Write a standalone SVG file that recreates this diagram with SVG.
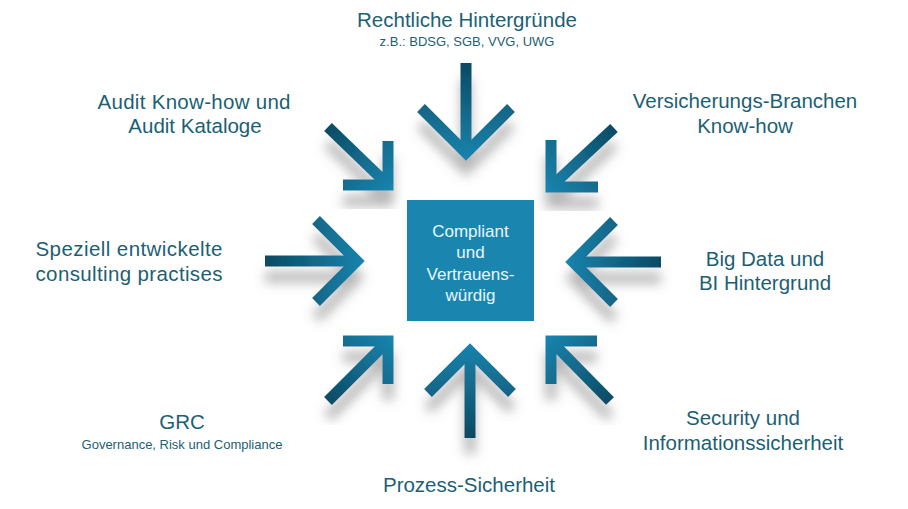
<svg xmlns="http://www.w3.org/2000/svg" width="908" height="509" viewBox="0 0 908 509">
<style>
.lbl{font-family:"Liberation Sans",Arial,sans-serif;font-size:20.5px;fill:#1c5f74;text-anchor:middle}
.sub{font-family:"Liberation Sans",Arial,sans-serif;font-size:13px;fill:#1c5f74;text-anchor:middle}
.box{font-family:"Liberation Sans",Arial,sans-serif;font-size:17px;fill:#e6f6fb;text-anchor:middle}
.arr{fill:none;stroke-width:11;stroke-linecap:butt;stroke-linejoin:miter;filter:url(#sh)}
</style>
<defs>
<filter id="sh" x="-40%" y="-40%" width="180%" height="180%">
<feGaussianBlur in="SourceAlpha" stdDeviation="6"/>
<feOffset dx="0" dy="16" result="b"/>
<feFlood flood-color="#707070" flood-opacity="0.5"/>
<feComposite in2="b" operator="in"/>
<feMerge><feMergeNode/><feMergeNode in="SourceGraphic"/></feMerge>
</filter>
<linearGradient id="gT" gradientUnits="userSpaceOnUse" x1="466" y1="63" x2="466" y2="160"><stop offset="0" stop-color="#0b4a63"/><stop offset="1" stop-color="#1a84ae"/></linearGradient>
<linearGradient id="gB" gradientUnits="userSpaceOnUse" x1="470" y1="438" x2="470" y2="343"><stop offset="0" stop-color="#0b4a63"/><stop offset="1" stop-color="#1a84ae"/></linearGradient>
<linearGradient id="gL" gradientUnits="userSpaceOnUse" x1="265" y1="261" x2="365" y2="261"><stop offset="0" stop-color="#0b4a63"/><stop offset="1" stop-color="#1a84ae"/></linearGradient>
<linearGradient id="gR" gradientUnits="userSpaceOnUse" x1="661" y1="262" x2="565" y2="262"><stop offset="0" stop-color="#0b4a63"/><stop offset="1" stop-color="#1a84ae"/></linearGradient>
<linearGradient id="gTL" gradientUnits="userSpaceOnUse" x1="326" y1="125" x2="392" y2="190"><stop offset="0" stop-color="#0b4a63"/><stop offset="1" stop-color="#1a84ae"/></linearGradient>
<linearGradient id="gTR" gradientUnits="userSpaceOnUse" x1="616" y1="126" x2="547" y2="191"><stop offset="0" stop-color="#0b4a63"/><stop offset="1" stop-color="#1a84ae"/></linearGradient>
<linearGradient id="gBL" gradientUnits="userSpaceOnUse" x1="326" y1="403" x2="392" y2="337"><stop offset="0" stop-color="#0b4a63"/><stop offset="1" stop-color="#1a84ae"/></linearGradient>
<linearGradient id="gBR" gradientUnits="userSpaceOnUse" x1="612" y1="403" x2="547" y2="337"><stop offset="0" stop-color="#0b4a63"/><stop offset="1" stop-color="#1a84ae"/></linearGradient>
</defs>
<rect width="908" height="509" fill="#ffffff"/>
<g id="connectors">
<g id="arrow-top" class="arr" stroke="url(#gT)"><path d="M466,63 L466,150"/><path d="M421,108 L466,153 L511,108"/></g>
<g id="arrow-bottom" class="arr" stroke="url(#gB)"><path d="M470,438 L470,354"/><path d="M428,393 L470,351 L512,393"/></g>
<g id="arrow-left" class="arr" stroke="url(#gL)"><path d="M265,261 L352,261"/><path d="M316,220 L357,261 L316,302"/></g>
<g id="arrow-right" class="arr" stroke="url(#gR)"><path d="M661,262 L578,262"/><path d="M614,221 L573,262 L614,303"/></g>
<g id="arrow-tl" class="arr" stroke="url(#gTL)"><path d="M328,127 L385,182"/><path d="M388,141 L388,185 L343,185"/></g>
<g id="arrow-tr" class="arr" stroke="url(#gTR)"><path d="M614,128 L554,184"/><path d="M551,140 L551,187 L598,187"/></g>
<g id="arrow-bl" class="arr" stroke="url(#gBL)"><path d="M328,401 L385,344"/><path d="M343,341 L388,341 L388,384"/></g>
<g id="arrow-br" class="arr" stroke="url(#gBR)"><path d="M610,401 L554,344"/><path d="M597,341 L551,341 L551,384"/></g>
</g>
<g id="center">
<rect x="407" y="200" width="127" height="121" fill="#1a86b0"/>
<text class="box" x="470.5" y="237">Compliant</text>
<text class="box" x="470.5" y="258">und</text>
<text class="box" x="470.5" y="280">Vertrauens-</text>
<text class="box" x="470.5" y="301">würdig</text>
</g>
<g id="n-recht"><text class="lbl" x="467" y="27">Rechtliche Hintergründe</text><text class="sub" x="467" y="46">z.B.: BDSG, SGB, VVG, UWG</text></g>
<g id="n-audit"><text class="lbl" x="194" y="109" textLength="193" lengthAdjust="spacing">Audit Know-how und</text><text class="lbl" x="195" y="133">Audit Kataloge</text></g>
<g id="n-versich"><text class="lbl" x="745" y="108">Versicherungs-Branchen</text><text class="lbl" x="745" y="133">Know-how</text></g>
<g id="n-spez"><text class="lbl" x="129" y="256" textLength="187" lengthAdjust="spacing">Speziell entwickelte</text><text class="lbl" x="129" y="281" textLength="187" lengthAdjust="spacing">consulting practises</text></g>
<g id="n-bigdata"><text class="lbl" x="765" y="266">Big Data und</text><text class="lbl" x="765" y="290">BI Hintergrund</text></g>
<g id="n-grc"><text class="lbl" x="182" y="429">GRC</text><text class="sub" x="182" y="449">Governance,  Risk und Compliance</text></g>
<g id="n-prozess"><text class="lbl" x="469" y="492">Prozess-Sicherheit</text></g>
<g id="n-security"><text class="lbl" x="743" y="425">Security und</text><text class="lbl" x="743" y="450">Informationssicherheit</text></g>
</svg>
